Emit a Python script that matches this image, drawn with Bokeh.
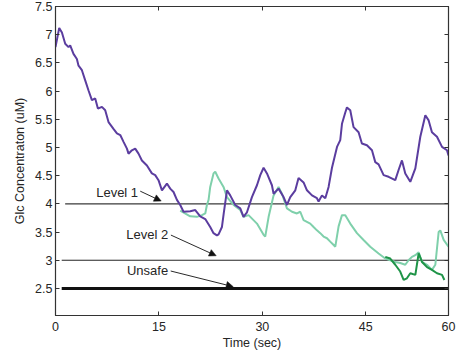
from bokeh.plotting import figure
from bokeh.models import (ColumnDataSource, FixedTicker, LinearAxis, Range1d,
                          Arrow, NormalHead, CustomJSTickFormatter)
from bokeh.core.properties import value
from bokeh.embed import file_html
from bokeh.resources import INLINE

# ---- data ----
purple_t = [0, 0.54, 0.93, 1.41, 1.89, 2.13, 2.61, 3.1, 3.34, 3.83, 4.31, 4.79, 5.28, 5.76,
            6.15, 6.73, 7.21, 7.69, 8.41, 8.91, 9.39, 9.87, 10.36, 10.59, 11.08, 11.56,
            12.04, 12.53, 13.26, 13.98, 14.46, 14.94, 15.44, 16.16, 16.64, 17.12, 17.61,
            18.09, 18.57, 19.54, 20.27, 20.99, 21.72, 22.44, 22.92, 23.41, 23.65, 24.14,
            24.40, 24.87, 25.34, 26.07, 26.8, 27.27, 27.77, 28.49, 29.22, 29.70, 30.18,
            30.67, 31.39, 31.63, 32.35, 33.08, 33.57, 34.05, 34.78, 35.25, 35.98, 36.47,
            37.2, 37.92, 38.16, 38.65, 39.13, 39.61, 40.10, 40.83, 41.3, 41.55, 42.03,
            42.27, 42.75, 43.23, 43.96, 44.44, 45.17, 45.9, 46.38, 46.86, 47.59, 48.31,
            49.28, 49.76, 50.25, 50.73, 51.46, 52.19, 52.91, 53.64, 54.12, 54.6, 55.33,
            56.06, 56.78, 57.0]
purple_glc = [6.78, 7.12, 7.04, 6.84, 6.78, 6.81, 6.66, 6.57, 6.45, 6.37, 6.19, 6.01, 5.84, 5.87,
              5.69, 5.72, 5.66, 5.45, 5.33, 5.25, 5.22, 5.10, 4.98, 4.89, 4.95, 4.98,
              4.89, 4.77, 4.68, 4.54, 4.51, 4.42, 4.24, 4.36, 4.27, 4.21, 4.07,
              3.98, 3.86, 3.87, 3.89, 3.78, 3.73, 3.59, 3.48, 3.44, 3.46, 3.59,
              3.83, 4.24, 4.15, 3.98, 3.92, 3.77, 3.85, 4.12, 4.33, 4.51, 4.64,
              4.54, 4.33, 4.18, 4.27, 4.12, 3.98, 4.12, 4.24, 4.46, 4.38, 4.24,
              4.15, 4.10, 4.04, 4.15, 4.10, 4.30, 4.64, 5.01, 5.13, 5.42, 5.62,
              5.71, 5.66, 5.36, 5.27, 5.07, 5.04, 4.95, 4.74, 4.70, 4.51, 4.48,
              4.42, 4.60, 4.77, 4.54, 4.39, 4.63, 5.19, 5.57, 5.48, 5.27, 5.19,
              5.01, 4.95, 4.86]

mint_t = [18.09, 19.54, 20.51, 21.24, 21.72, 21.96, 22.2, 22.44, 22.92, 23.17, 23.65, 24.37,
          24.87, 25.83, 26.8, 27.27, 28.0, 29.22, 30.18, 30.42, 30.91, 31.63, 32.35, 32.84,
          33.57, 34.30, 35.02, 35.5, 35.98, 36.95, 37.43, 37.92, 38.4, 38.88, 39.37, 39.85,
          40.34, 40.58, 41.06, 41.55, 42.03, 42.75, 43.72, 44.68, 45.65, 46.86, 47.83,
          48.55, 49.28, 50.0, 50.73, 51.21, 51.7, 52.19, 52.67, 53.16, 53.88, 54.6, 55.09,
          55.57, 55.81, 56.3, 57.0]
mint_glc = [3.88, 3.78, 3.77, 3.80, 3.83, 3.98, 4.07, 4.30, 4.54, 4.57, 4.45, 4.30,
            4.12, 3.98, 3.89, 3.77, 3.80, 3.65, 3.45, 3.42, 3.77, 4.15, 4.30, 4.18,
            3.92, 3.86, 3.83, 3.86, 3.71, 3.65, 3.59, 3.53, 3.48, 3.42, 3.39, 3.33,
            3.27, 3.24, 3.60, 3.80, 3.80, 3.65, 3.48, 3.36, 3.24, 3.12, 3.03,
            3.00, 2.97, 2.95, 2.92, 3.00, 3.06, 3.09, 3.14, 2.97, 2.92, 2.83, 2.92,
            3.50, 3.53, 3.36, 3.24]

green_t = [47.83, 48.55, 49.28, 50.0, 50.49, 50.97, 51.46, 52.19, 52.67, 53.16, 53.88,
           54.6, 55.33, 56.06, 56.4]
green_glc = [3.06, 3.03, 2.92, 2.80, 2.65, 2.68, 2.77, 2.74, 3.12, 2.97, 2.88,
             2.83, 2.77, 2.74, 2.65]

level_names = ["Level 1", "Level 2", "Unsafe"]
level_values = [4.0, 3.0, 2.5]
level_start = [1.4, 0.9, 0.9]
level_end = [57.0, 57.0, 57.0]
level_colors = ["#3a3a3a", "#222222", "#111111"]
level_widths = [1.4, 1.0, 3.0]

label_x = [5.9, 10.26, 10.36]
label_y = [4.21, 3.45, 2.81]
arrow_x0 = [12.29, 16.74, 16.71]
arrow_y0 = [4.225, 3.446, 2.809]
arrow_x1 = [15.33, 23.31, 25.78]
arrow_y1 = [4.05, 3.08, 2.531]

x_ticks = [0, 15, 30, 45, 57]
x_tick_labels = ["0", "15", "30", "45", "60"]
y_ticks = [2.5, 3.0, 3.5, 4.0, 4.5, 5.0, 5.5, 6.0, 6.5, 7.0, 7.5]
y_tick_labels = ["2.5", "3", "3.5", "4", "4.5", "5", "5.5", "6", "6.5", "7", "7.5"]

FONT = "Liberation Sans"
TXT = "#262626"

p = figure(frame_width=393, frame_height=309,
           x_range=Range1d(0, 57), y_range=Range1d(2.02, 7.5),
           min_border_left=55, min_border_right=10, min_border_top=6, min_border_bottom=36,
           output_backend="svg", toolbar_location=None,
           x_axis_label="Time (sec)", y_axis_label="Glc Concentraton (uM)")
p.grid.visible = False
p.outline_line_color = "#333333"
p.outline_line_width = 1.2

# level lines
lv = ColumnDataSource(dict(x0=level_start, x1=level_end, y=level_values,
                           c=level_colors, w=level_widths))
p.segment(x0="x0", y0="y", x1="x1", y1="y", line_color="c", line_width="w", source=lv)

# series
p.line(mint_t, mint_glc, line_color="#7fd0ab", line_width=2)
p.line(green_t, green_glc, line_color="#1f9448", line_width=2)
p.line(purple_t, purple_glc, line_color="#5b3d9f", line_width=2)

# annotations
p.text(x=label_x, y=label_y, text=level_names, text_font=value(FONT),
       text_font_size="13px", text_color=TXT, text_align="left", text_baseline="middle")
asrc = ColumnDataSource(dict(x0=arrow_x0, y0=arrow_y0, x1=arrow_x1, y1=arrow_y1))
p.add_layout(Arrow(x_start="x0", y_start="y0", x_end="x1", y_end="y1", source=asrc,
                   line_color="#111111", line_width=0.9,
                   end=NormalHead(size=7, fill_color="#111111", line_color="#111111",
                                  line_width=0.5)))

# axes styling
for ax, ticks, labels in ((p.xaxis[0], x_ticks, x_tick_labels),
                          (p.yaxis[0], y_ticks, y_tick_labels)):
    ax.ticker = FixedTicker(ticks=ticks)
    ax.major_label_overrides = {t: l for t, l in zip(ticks, labels)}
    ax.major_tick_in = 4
    ax.major_tick_out = 0
    ax.minor_tick_line_color = None
    ax.axis_line_color = "#333333"
    ax.major_tick_line_color = "#333333"
    ax.major_label_text_font = FONT
    ax.major_label_text_font_size = "12.5px"
    ax.major_label_text_color = TXT
    ax.axis_label_text_font = FONT
    ax.axis_label_text_font_size = "12.5px"
    ax.axis_label_text_font_style = "normal"
    ax.axis_label_text_color = TXT

p.xaxis[0].major_label_standoff = 6
p.xaxis[0].axis_label_standoff = 2
p.yaxis[0].major_label_standoff = 3
p.yaxis[0].axis_label_standoff = 5

# mirrored ticks on top and right
for side, ticks in (("above", x_ticks), ("right", y_ticks)):
    ax = LinearAxis(ticker=FixedTicker(ticks=ticks),
                    formatter=CustomJSTickFormatter(code="return ''"))
    ax.major_tick_in = 4
    ax.major_tick_out = 0
    ax.minor_tick_line_color = None
    ax.major_label_standoff = 0
    ax.axis_line_color = "#333333"
    ax.major_tick_line_color = "#333333"
    p.add_layout(ax, side)

open("out.html", "w").write(file_html(p, INLINE))
